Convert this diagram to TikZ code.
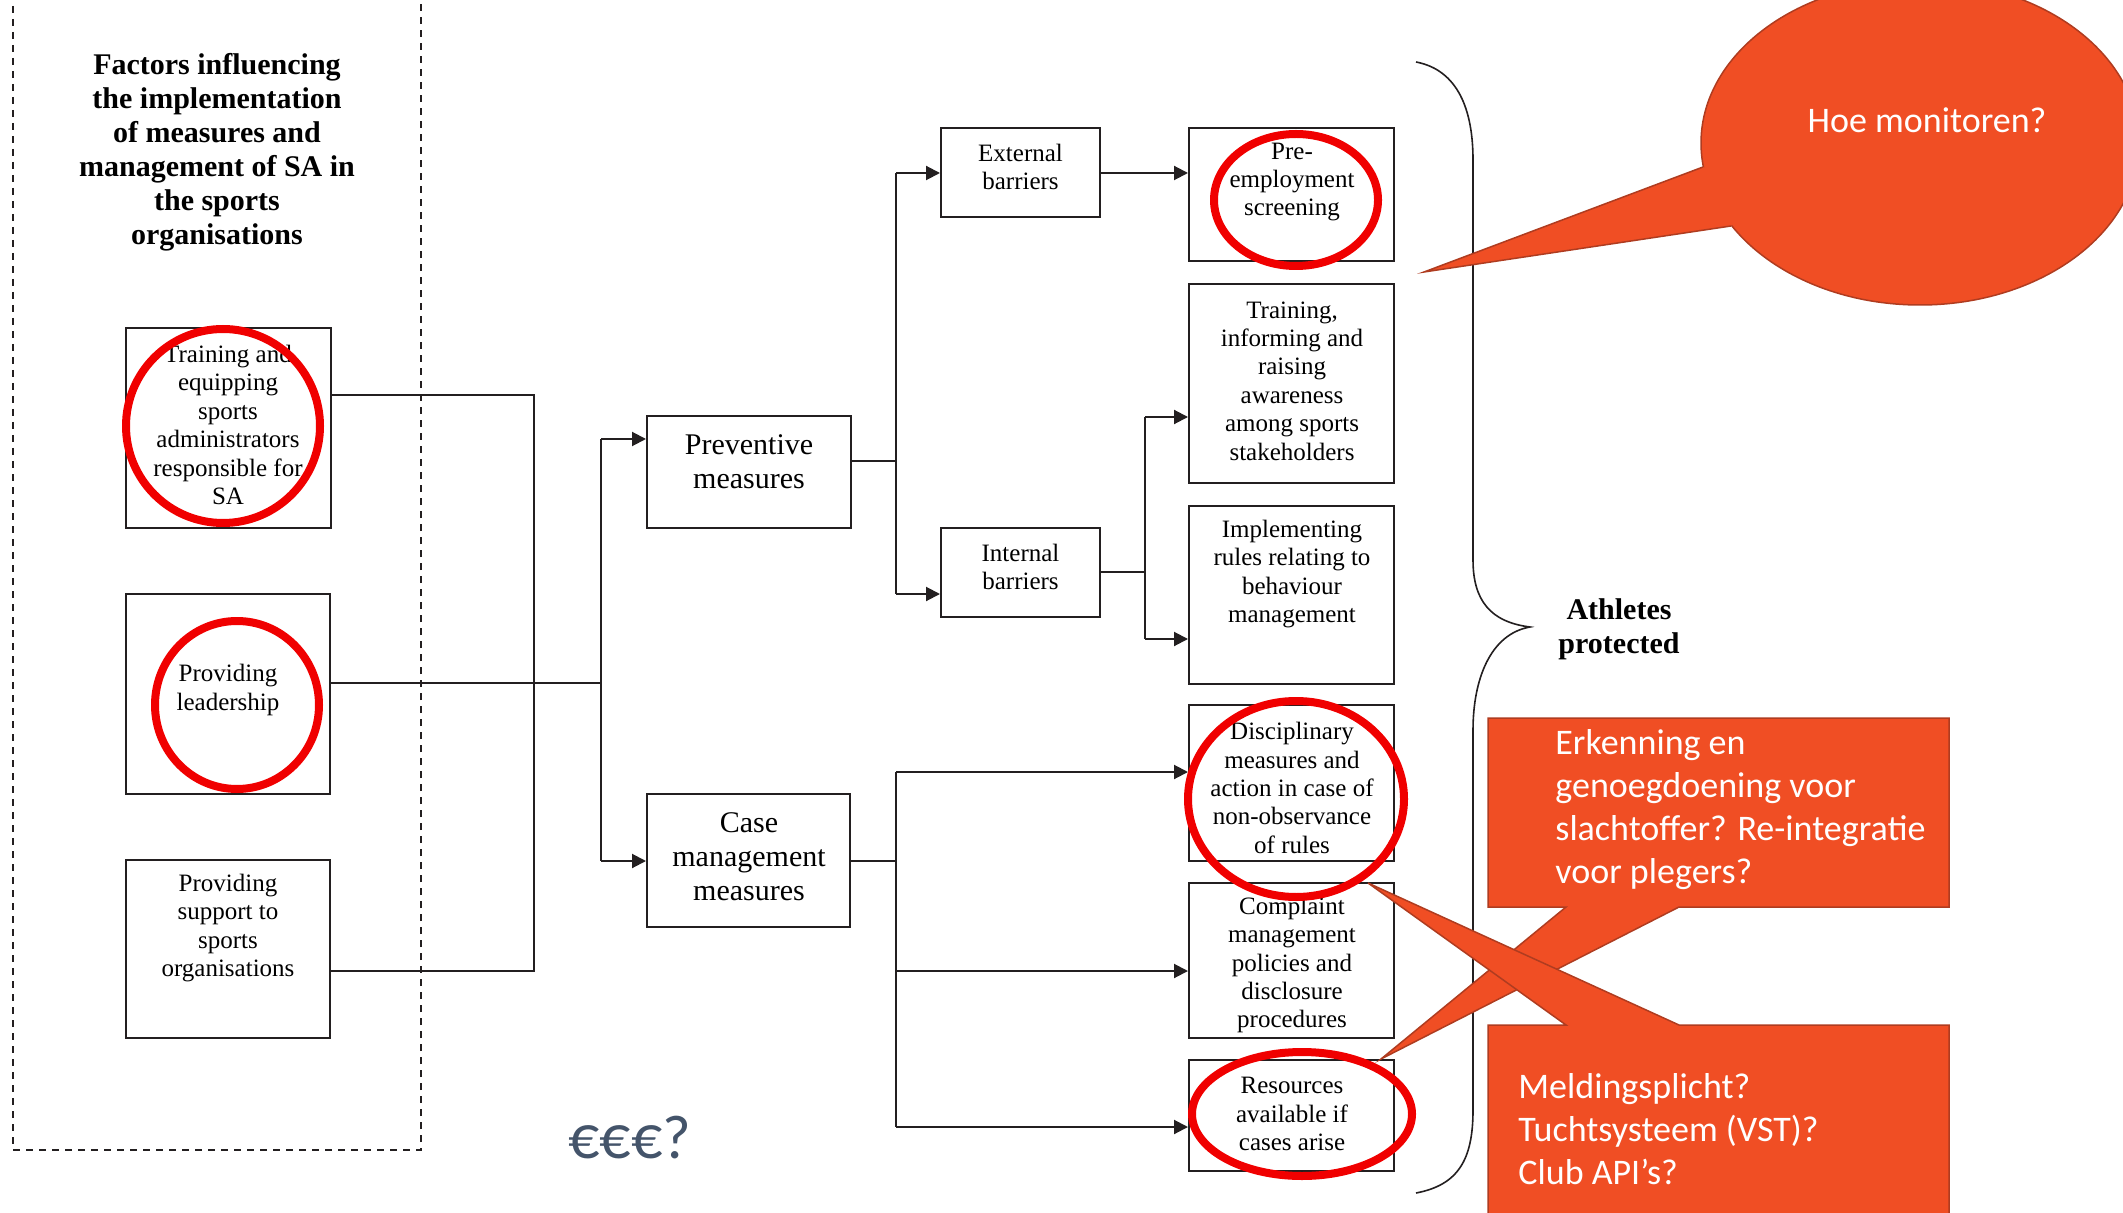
\documentclass[tikz,border=0pt]{standalone}
\usepackage{fontspec}
\setmainfont{Liberation Serif}
\newfontfamily\calib{Carlito}
\usetikzlibrary{arrows.meta,calc}
\definecolor{callout}{RGB}{240,78,36}
\definecolor{calloutedge}{RGB}{175,60,32}
\definecolor{euro}{RGB}{68,84,106}
\definecolor{ink}{RGB}{35,31,32}
\definecolor{ring}{RGB}{240,0,0}
\begin{document}
\begin{tikzpicture}[x=0.5pt,y=-0.5pt,
  bx/.style n args={2}{draw=ink, line width=1pt, inner sep=0pt, minimum width=#1*0.5pt, minimum height=#2*0.5pt},
  txt/.style={inner sep=0pt, align=center, font=\fontsize{12.5}{14.2}\selectfont},
  bigtxt/.style={inner sep=0pt, align=center, font=\fontsize{15}{17}\selectfont},
  boldtxt/.style={inner sep=0pt, align=center, font=\bfseries\fontsize{15}{17}\selectfont},
  ln/.style={draw=ink, line width=1pt},
  arr/.style={draw=ink, line width=1pt, -{Triangle[length=7pt,width=7pt]}},
  redring/.style={draw=ring, line width=4pt},
  callbox/.style={fill=callout, draw=calloutedge, line width=0.75pt},
  calltxt/.style={inner sep=0pt, align=left, text=white, font=\calib\fontsize{18}{21.5}\selectfont}
]
\useasboundingbox (0,0) rectangle (2123,1213);
\clip (0,0) rectangle (2123,1213);

% dashed frame
\draw[draw=ink, line width=0.75pt, dash pattern=on 3.5pt off 3pt] (13,-20) rectangle (421,1150);
\node[boldtxt] (title) at (217,152) {Factors influencing\\the implementation\\of measures and\\management of SA in\\the sports\\organisations};

% boxes
\node[bx={205}{200}] (trainL) at (228.5,428) {};
\node[bx={204}{200}] (lead) at (228,694) {};
\node[bx={204}{178}] (supp) at (228,949) {};
\node[bx={204}{112}] (prev) at (749,472) {};
\node[bx={203}{133}] (case) at (748.5,860.5) {};
\node[bx={159}{89}] (ext) at (1020.5,172.5) {};
\node[bx={159}{89}] (intl) at (1020.5,572.5) {};
\node[bx={205}{133}] (pre) at (1291.5,194.5) {};
\node[bx={205}{199}] (trainR) at (1291.5,383.5) {};
\node[bx={205}{178}] (impl) at (1291.5,595) {};
\node[bx={205}{156}] (disc) at (1291.5,783) {};
\node[bx={205}{155}] (comp) at (1291.5,960.5) {};
\node[bx={205}{111}] (res) at (1291.5,1115.5) {};

% texts
\node[txt] (trainLt) at (228,425) {Training and\\equipping\\sports\\administrators\\responsible for\\SA};
\node[txt] (leadt) at (228,690) {Providing\\leadership};
\node[txt] (suppt) at (228,928) {Providing\\support to\\sports\\organisations};
\node[bigtxt] (prevt) at (749,462) {Preventive\\measures};
\node[bigtxt] (caset) at (749,857) {Case\\management\\measures};
\node[txt] (extt) at (1020.5,167) {External\\barriers};
\node[txt] (intlt) at (1020.5,567) {Internal\\barriers};
\node[txt] (pret) at (1292,182) {Pre-\\employment\\screening};
\node[txt] (trainRt) at (1292,381) {Training,\\informing and\\raising\\awareness\\among sports\\stakeholders};
\node[txt] (implt) at (1292,574) {Implementing\\rules relating to\\behaviour\\management};
\node[txt] (disct) at (1292,788) {Disciplinary\\measures and\\action in case of\\non-observance\\of rules};
\node[txt] (compt) at (1292,965) {Complaint\\management\\policies and\\disclosure\\procedures};
\node[txt] (rest) at (1292,1114) {Resources\\available if\\cases arise};
\node[boldtxt] (ath) at (1619,629) {Athletes\\protected};
\node[inner sep=0pt, text=euro, font=\calib\fontsize{31}{36}\selectfont] (euro) at (630,1138) {€€€?};

% junctions
\coordinate (j1) at (534,395);
\coordinate (j2) at (534,971);
\coordinate (j3) at (601,683);
\coordinate (j4) at (601,439);
\coordinate (j5) at (601,861);
\coordinate (k1) at (896,461);
\coordinate (k2) at (896,173);
\coordinate (k3) at (896,594);
\coordinate (m1) at (1145,572);
\coordinate (m2) at (1145,417);
\coordinate (m3) at (1145,639);
\coordinate (n1) at (896,861);
\coordinate (n2) at (896,772);
\coordinate (n3) at (896,971);
\coordinate (n4) at (896,1127);

% connectors
\draw[ln] (trainL.east |- j1) -- (j1) -- (j2) -- (supp.east |- j2);
\draw[ln] (lead.east |- j3) -- (j3);
\draw[ln] (j4) -- (j5);
\draw[arr] (j4) -- (prev.west |- j4);
\draw[arr] (j5) -- (case.west |- j5);
\draw[ln] (prev.east |- k1) -- (k1);
\draw[ln] (k2) -- (k3);
\draw[arr] (k2) -- (ext.west |- k2);
\draw[arr] (k3) -- (intl.west |- k3);
\draw[arr] (ext.east |- k2) -- (pre.west |- k2);
\draw[ln] (intl.east |- m1) -- (m1);
\draw[ln] (m2) -- (m3);
\draw[arr] (m2) -- (trainR.west |- m2);
\draw[arr] (m3) -- (impl.west |- m3);
\draw[ln] (case.east |- n1) -- (n1);
\draw[ln] (n2) -- (n4);
\draw[arr] (n2) -- (disc.west |- n2);
\draw[arr] (n3) -- (comp.west |- n3);
\draw[arr] (n4) -- (res.west |- n4);

% brace
\draw[draw=ink, line width=0.8pt] (1416,62) .. controls (1458,70) and (1473,110) .. (1473,160)
  -- (1473,560) .. controls (1473,600) and (1490,622) .. (1530,627)
  .. controls (1490,634) and (1473,680) .. (1473,730)
  -- (1473,1110) .. controls (1473,1160) and (1458,1185) .. (1416,1193);

% red rings
\draw[redring] (223,426) ellipse [x radius=48.5pt, y radius=48.5pt];
\draw[redring] (237,705) ellipse [x radius=41pt, y radius=42pt];
\draw[redring] (1296,200) ellipse [x radius=41pt, y radius=33pt];
\draw[redring] (1296,799) ellipse [x radius=54pt, y radius=49pt];
\draw[redring] (1302,1114) ellipse [x radius=55pt, y radius=31pt];

% callout: Hoe monitoren?
\coordinate (b1) at (1703,167);
\coordinate (b2) at (1731,226);
\coordinate (t1) at (1424,272);
\fill[callout] (1920,143) ellipse [x radius=109.5pt, y radius=81pt];
\draw[calloutedge, line width=0.75pt] (1920,143) ellipse [x radius=109.5pt, y radius=81pt];
\fill[callout] (t1) -- (b1) -- (1760,190) -- (b2) -- cycle;
\draw[calloutedge, line width=0.75pt] (b1) -- (t1) -- (b2);
\node[inner sep=0pt, text=white, font=\calib\fontsize{18}{21.5}\selectfont] (hoe) at (1927,120) {Hoe monitoren?};

% callout: Erkenning
\draw[callbox] (1488,718) -- (1949,718) -- (1949,907) -- (1679,907) -- (1381,1059) -- (1566,907) -- (1488,907) -- cycle;
% callout: Meldingsplicht
\draw[callbox] (1488,1025) -- (1566,1025) -- (1368,883) -- (1679,1025) -- (1949,1025) -- (1949,1240) -- (1488,1240) -- cycle;
\node[calltxt, anchor=west] (erk) at (1555,809.5) {Erkenning en\\genoegdoening voor\\slachtoffer? Re-integratie\\voor plegers?};
\node[calltxt, anchor=west] (meld) at (1518,1129) {Meldingsplicht?\\Tuchtsysteem (VST)?\\Club API’s?};
\end{tikzpicture}
\end{document}
